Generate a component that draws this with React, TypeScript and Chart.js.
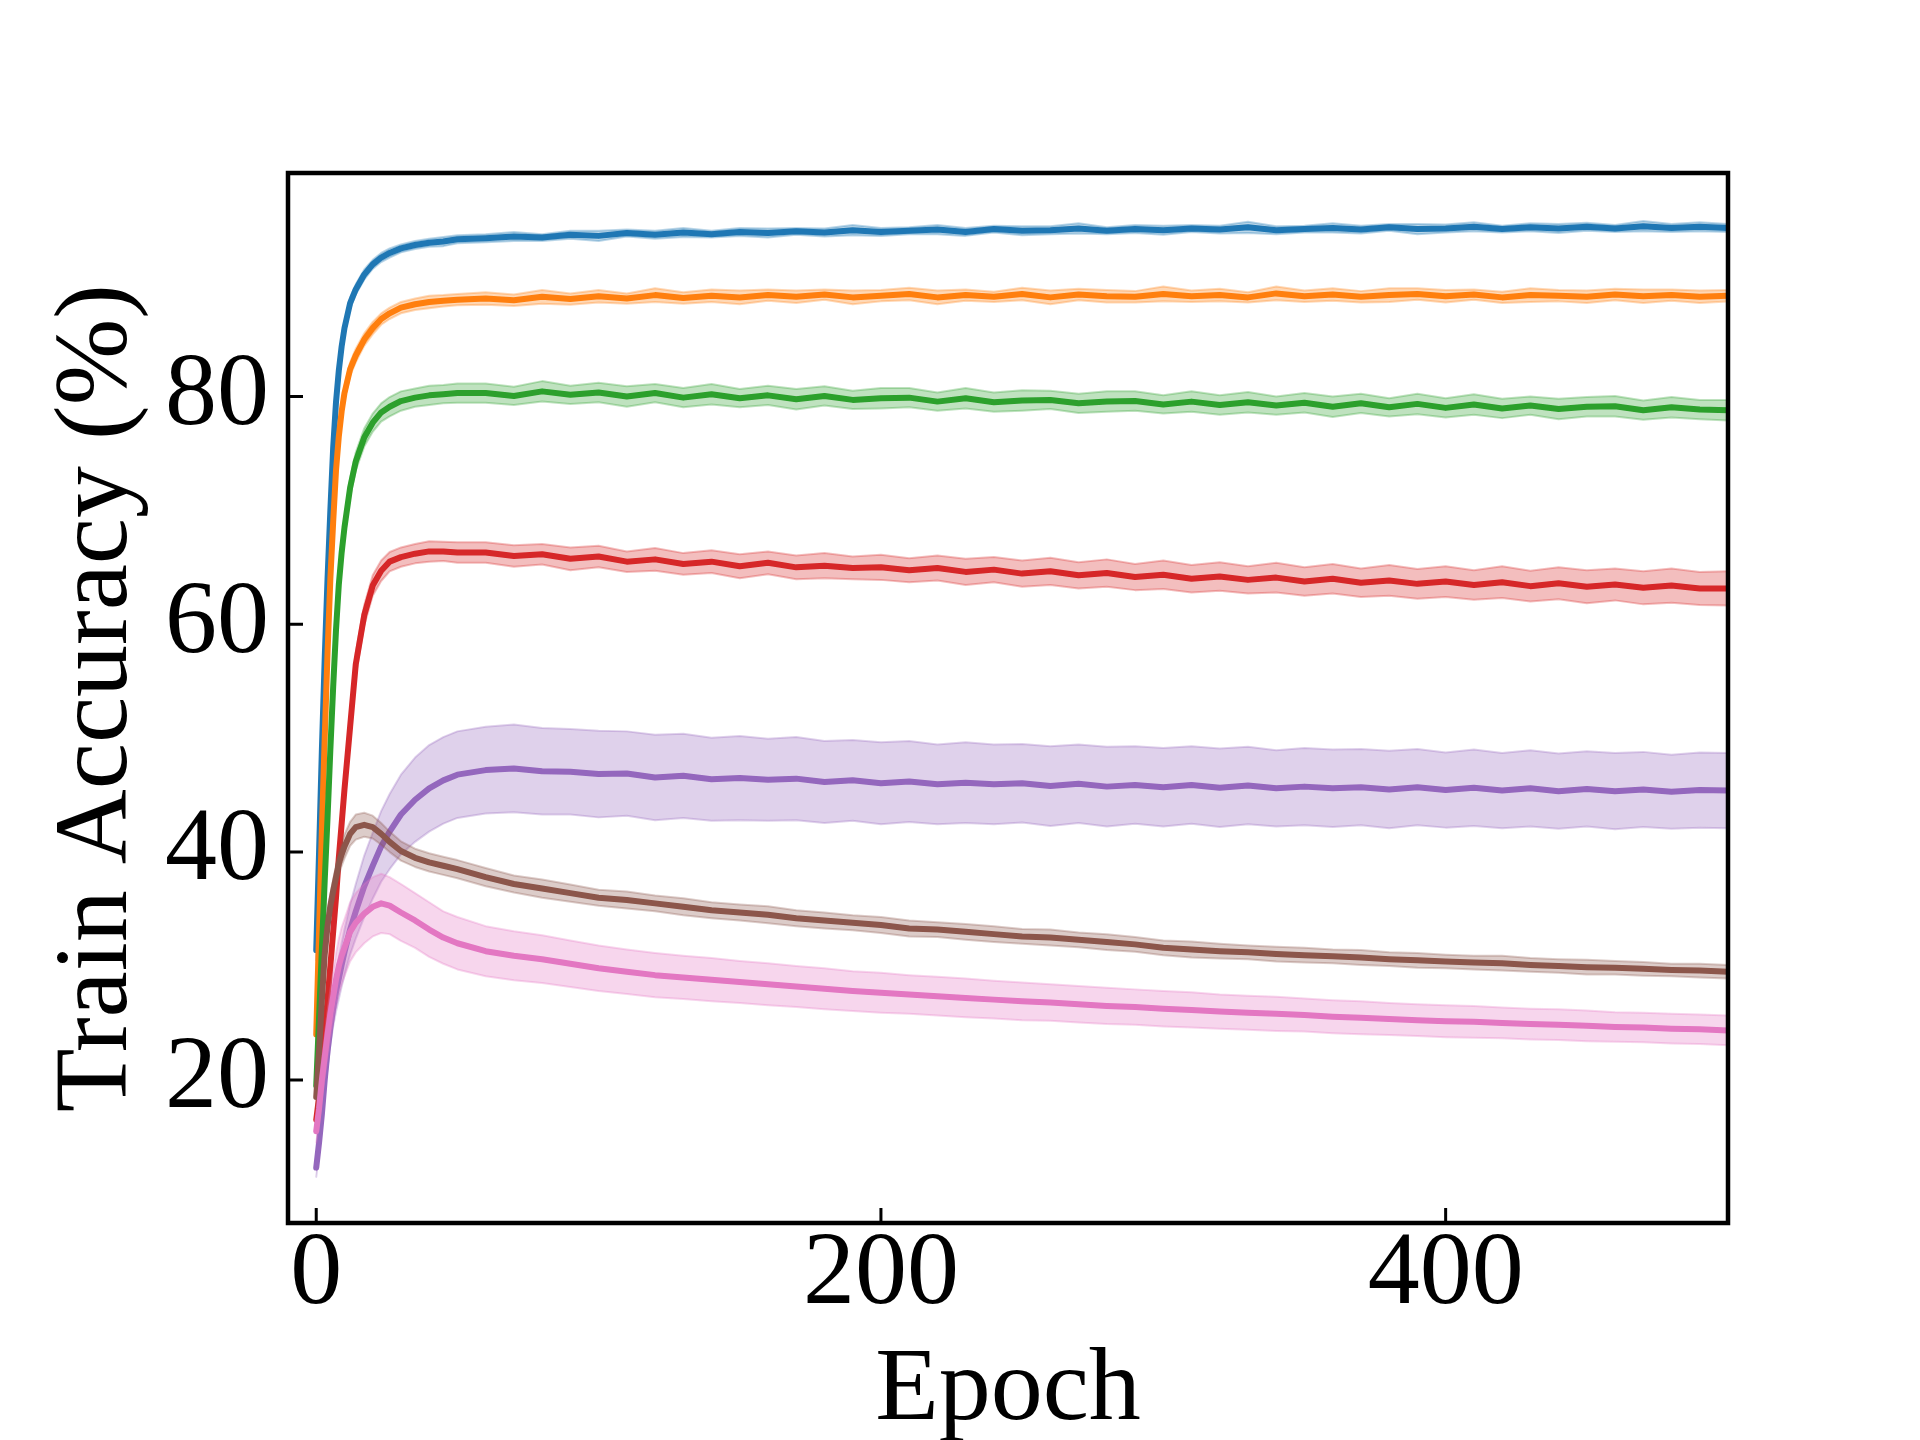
import { useEffect, useRef } from 'react';
import { Chart, registerables } from 'chart.js';
import type { ChartConfiguration, Plugin } from 'chart.js';

Chart.register(...registerables);

// epochs at which the curves are sampled
const epochs = [
  0, 1, 2, 3, 4, 5, 6, 7, 8, 9, 10, 12, 14, 17, 20, 23, 26, 30, 35, 40, 45, 50,
  60, 70, 80, 90, 100, 110, 120, 130, 140, 150,
  160, 170, 180, 190, 200, 210, 220, 230, 240, 250,
  260, 270, 280, 290, 300, 310, 320, 330, 340, 350,
  360, 370, 380, 390, 400, 410, 420, 430, 440, 450,
  460, 470, 480, 490, 500,
];

const xTicks = [0, 200, 400];
const yTicks = [20, 40, 60, 80];

// mean train accuracy (%)
const blueAcc = [
  31.4, 40, 49, 57, 64, 70, 75.5, 79.5, 82.3, 84.4, 86, 88.2, 89.4, 90.7, 91.6, 92.2, 92.6, 93.0, 93.3, 93.5, 93.6, 93.8,
  93.9, 94.05, 93.95, 94.2, 94.1, 94.35, 94.2, 94.4, 94.25, 94.45,
  94.35, 94.5, 94.4, 94.6, 94.45, 94.55, 94.65, 94.45, 94.7, 94.55,
  94.6, 94.75, 94.55, 94.7, 94.6, 94.75, 94.65, 94.85, 94.6, 94.7,
  94.8, 94.65, 94.85, 94.7, 94.75, 94.9, 94.7, 94.85, 94.75, 94.9,
  94.75, 94.95, 94.8, 94.9, 94.8,
];
const orangeAcc = [
  24, 33, 42, 50, 57.5, 64, 69, 73.5, 76.5, 78.7, 80.3, 82.4, 83.6, 85.0, 86.0, 86.8, 87.3, 87.8, 88.1, 88.3, 88.4, 88.5,
  88.6, 88.45, 88.75, 88.55, 88.8, 88.6, 88.9, 88.65, 88.85, 88.7,
  88.9, 88.75, 88.95, 88.7, 88.85, 89.0, 88.7, 88.9, 88.75, 89.0,
  88.7, 88.95, 88.8, 88.75, 89.0, 88.8, 88.9, 88.7, 89.05, 88.8,
  88.95, 88.75, 88.9, 89.0, 88.8, 88.95, 88.7, 88.9, 88.85, 88.75,
  88.95, 88.8, 88.9, 88.75, 88.85,
];
const greenAcc = [
  19.5, 25.5, 31.5, 37.5, 43, 49, 54.5, 59.5, 63.5, 66.3, 68.5, 72.0, 74.3, 76.4, 77.7, 78.6, 79.1, 79.6, 79.9, 80.1, 80.2, 80.3,
  80.3, 80.05, 80.45, 80.15, 80.35, 80.0, 80.3, 79.9, 80.2, 79.85,
  80.1, 79.75, 80.05, 79.7, 79.85, 79.9, 79.55, 79.85, 79.5, 79.65,
  79.7, 79.4, 79.55, 79.6, 79.3, 79.55, 79.25, 79.5, 79.2, 79.45,
  79.1, 79.4, 79.05, 79.35, 79.0, 79.3, 78.95, 79.2, 78.9, 79.1,
  79.15, 78.8, 79.05, 78.85, 78.8,
];
const redAcc = [
  16.5, 18.5, 21, 24, 27, 30, 33, 36, 39.5, 42.5, 45.5, 51, 56.5, 60.8, 63.4, 64.7, 65.5, 65.9, 66.2, 66.4, 66.4, 66.3,
  66.3, 66.0, 66.15, 65.75, 65.95, 65.5, 65.7, 65.3, 65.5, 65.1,
  65.4, 65.0, 65.15, 64.95, 65.0, 64.75, 64.95, 64.6, 64.8, 64.45,
  64.65, 64.3, 64.5, 64.15, 64.35, 64.0, 64.2, 63.9, 64.1, 63.75,
  64.0, 63.65, 63.85, 63.55, 63.75, 63.45, 63.7, 63.35, 63.6, 63.3,
  63.5, 63.2, 63.4, 63.15, 63.15,
];
const purpleAcc = [
  12.3, 14.5, 17, 20, 22.5, 24.6, 26.3, 27.7, 28.9, 30.1, 31.2, 33.2, 34.8, 37.0, 38.8, 40.5, 41.8, 43.3, 44.6, 45.6, 46.3, 46.8,
  47.2, 47.35, 47.1, 47.05, 46.85, 46.9, 46.55, 46.7, 46.4, 46.5,
  46.35, 46.45, 46.15, 46.3, 46.05, 46.2, 45.95, 46.1, 45.95, 46.05,
  45.8, 46.0, 45.75, 45.9, 45.7, 45.9, 45.65, 45.85, 45.6, 45.75,
  45.6, 45.7, 45.5, 45.7, 45.45, 45.65, 45.4, 45.6, 45.35, 45.55,
  45.35, 45.5, 45.3, 45.45, 45.4,
];
const brownAcc = [
  18.5, 22.5, 27, 31, 33.5, 35.3, 36.6, 37.8, 39.0, 39.8, 40.5, 41.6, 42.2, 42.4, 42.2, 41.6, 40.9, 40.1, 39.5, 39.1, 38.8, 38.5,
  37.8, 37.2, 36.8, 36.4, 36.0, 35.8, 35.5, 35.2, 34.9, 34.7,
  34.5, 34.2, 34.0, 33.8, 33.6, 33.3, 33.2, 33.0, 32.8, 32.6,
  32.5, 32.3, 32.1, 31.9, 31.6, 31.45, 31.3, 31.2, 31.05, 30.95,
  30.85, 30.75, 30.6, 30.5, 30.4, 30.3, 30.25, 30.1, 30.0, 29.9,
  29.85, 29.75, 29.65, 29.6, 29.5,
];
const pinkAcc = [
  15.5, 17.5, 20, 22, 24, 25.8, 27.3, 28.8, 30.0, 30.9, 31.6, 33.0, 33.8, 34.6, 35.2, 35.5, 35.3, 34.7, 34.0, 33.2, 32.5, 32.0,
  31.3, 30.9, 30.6, 30.2, 29.8, 29.5, 29.2, 29.0, 28.8, 28.6,
  28.4, 28.2, 28.0, 27.8, 27.65, 27.5, 27.35, 27.2, 27.05, 26.9,
  26.8, 26.65, 26.5, 26.4, 26.25, 26.15, 26.0, 25.9, 25.8, 25.7,
  25.55, 25.45, 25.35, 25.25, 25.15, 25.1, 25.0, 24.9, 24.85, 24.75,
  24.65, 24.6, 24.5, 24.45, 24.35,
];

// standard deviation (shaded band = mean ± std)
const blueStd = [
  0.9, 0.9, 0.8, 0.8, 0.7, 0.7, 0.6, 0.6, 0.6, 0.5, 0.5, 0.5, 0.45, 0.45, 0.4, 0.4, 0.4, 0.35, 0.35, 0.35, 0.4, 0.35,
  0.35, 0.4, 0.3, 0.35, 0.45, 0.3, 0.35, 0.4, 0.3, 0.35,
  0.4, 0.3, 0.35, 0.45, 0.35, 0.3, 0.4, 0.35, 0.3, 0.4,
  0.35, 0.45, 0.3, 0.35, 0.4, 0.3, 0.35, 0.5, 0.35, 0.3,
  0.4, 0.35, 0.3, 0.45, 0.35, 0.4, 0.3, 0.35, 0.4, 0.35,
  0.3, 0.45, 0.35, 0.4, 0.35,
];
const orangeStd = [
  1.0, 1.0, 0.9, 0.9, 0.8, 0.8, 0.7, 0.7, 0.7, 0.6, 0.6, 0.6, 0.6, 0.55, 0.55, 0.5, 0.5, 0.5, 0.5, 0.55, 0.5, 0.5,
  0.55, 0.5, 0.6, 0.5, 0.55, 0.45, 0.6, 0.5, 0.55, 0.6,
  0.5, 0.55, 0.45, 0.6, 0.5, 0.55, 0.6, 0.5, 0.45, 0.55,
  0.6, 0.5, 0.55, 0.5, 0.65, 0.5, 0.55, 0.45, 0.6, 0.5,
  0.55, 0.5, 0.6, 0.5, 0.55, 0.45, 0.5, 0.6, 0.5, 0.55,
  0.5, 0.6, 0.5, 0.55, 0.5,
];
const greenStd = [
  1.0, 1.0, 1.0, 0.9, 0.9, 0.9, 0.8, 0.8, 0.8, 0.8, 0.8, 0.8, 0.8, 0.8, 0.8, 0.8, 0.85, 0.85, 0.8, 0.85, 0.8, 0.85,
  0.85, 0.8, 0.9, 0.8, 0.85, 0.9, 0.8, 0.85, 0.9, 0.8,
  0.85, 0.9, 0.85, 0.8, 0.9, 0.85, 0.8, 0.9, 0.85, 0.9,
  0.8, 0.85, 0.9, 0.85, 0.8, 0.9, 0.85, 0.9, 0.8, 0.85,
  0.9, 0.85, 0.8, 0.9, 0.85, 0.9, 0.85, 0.8, 0.9, 0.85,
  0.9, 0.85, 0.9, 0.85, 0.9,
];
const redStd = [
  1.0, 1.0, 1.0, 1.0, 1.0, 1.0, 1.0, 1.0, 1.0, 1.0, 1.0, 1.0, 1.0, 0.9, 0.9, 0.9, 0.85, 0.85, 0.85, 0.9, 0.85, 0.9,
  0.9, 0.95, 0.9, 1.0, 0.95, 0.9, 1.0, 0.95, 1.0, 1.05,
  1.0, 1.05, 1.1, 1.0, 1.1, 1.05, 1.1, 1.15, 1.1, 1.15,
  1.2, 1.15, 1.2, 1.15, 1.25, 1.2, 1.25, 1.2, 1.3, 1.25,
  1.3, 1.25, 1.35, 1.3, 1.35, 1.3, 1.4, 1.35, 1.4, 1.45,
  1.4, 1.45, 1.5, 1.45, 1.5,
];
const purpleStd = [
  0.8, 1.0, 1.2, 1.3, 1.4, 1.5, 1.6, 1.7, 1.8, 1.9, 2.0, 2.2, 2.4, 2.7, 2.9, 3.1, 3.3, 3.5, 3.7, 3.8, 3.8, 3.8,
  3.8, 3.85, 3.8, 3.75, 3.8, 3.7, 3.75, 3.7, 3.65, 3.7,
  3.6, 3.65, 3.6, 3.55, 3.6, 3.55, 3.5, 3.55, 3.5, 3.45,
  3.5, 3.45, 3.5, 3.4, 3.45, 3.4, 3.45, 3.4, 3.35, 3.4,
  3.4, 3.35, 3.4, 3.35, 3.3, 3.35, 3.3, 3.35, 3.3, 3.3,
  3.35, 3.3, 3.25, 3.3, 3.3,
];
const brownStd = [
  1.0, 1.0, 1.0, 1.0, 1.0, 1.0, 1.0, 1.0, 1.0, 1.0, 1.05, 1.05, 1.1, 1.05, 1.0, 0.95, 0.9, 0.85, 0.8, 0.8, 0.8, 0.8,
  0.8, 0.75, 0.8, 0.75, 0.7, 0.75, 0.7, 0.75, 0.7, 0.7,
  0.75, 0.7, 0.7, 0.65, 0.7, 0.7, 0.65, 0.7, 0.7, 0.65,
  0.7, 0.65, 0.7, 0.65, 0.65, 0.7, 0.65, 0.6, 0.65, 0.65,
  0.6, 0.65, 0.6, 0.65, 0.6, 0.6, 0.65, 0.6, 0.6, 0.65,
  0.6, 0.6, 0.55, 0.6, 0.6,
];
const pinkStd = [
  1.0, 1.3, 1.6, 1.8, 2.0, 2.1, 2.2, 2.3, 2.4, 2.5, 2.5, 2.6, 2.6, 2.6, 2.6, 2.6, 2.5, 2.5, 2.4, 2.4, 2.3, 2.3,
  2.2, 2.15, 2.1, 2.05, 2.0, 1.95, 1.95, 1.9, 1.9, 1.85,
  1.85, 1.8, 1.8, 1.75, 1.75, 1.7, 1.7, 1.7, 1.65, 1.65,
  1.6, 1.6, 1.6, 1.55, 1.55, 1.55, 1.5, 1.5, 1.5, 1.45,
  1.45, 1.45, 1.4, 1.4, 1.4, 1.4, 1.35, 1.35, 1.35, 1.35,
  1.3, 1.3, 1.3, 1.3, 1.3,
];

const seriesColors = ['#1f77b4', '#ff7f0e', '#2ca02c', '#d62728', '#9467bd', '#8c564b', '#e377c2'];
const seriesMeans = [blueAcc, orangeAcc, greenAcc, redAcc, purpleAcc, brownAcc, pinkAcc];
const seriesStds = [blueStd, orangeStd, greenStd, redStd, purpleStd, brownStd, pinkStd];

const FONT = "'Liberation Serif', 'Times New Roman', Times, serif";

function withAlpha(hex: string, a: number) {
  const n = parseInt(hex.slice(1), 16);
  return `rgba(${(n >> 16) & 255}, ${(n >> 8) & 255}, ${n & 255}, ${a})`;
}

// matplotlib-style box and inward ticks
const framePlugin: Plugin = {
  id: 'frame',
  afterDatasetsDraw(chart) {
    const { ctx, chartArea: a, scales } = chart;
    ctx.save();
    ctx.strokeStyle = '#000';
    ctx.lineWidth = 3;
    ctx.beginPath();
    xTicks.forEach((v) => {
      const px = scales.x.getPixelForValue(v);
      ctx.moveTo(px, a.bottom);
      ctx.lineTo(px, a.bottom - 15);
    });
    yTicks.forEach((v) => {
      const py = scales.y.getPixelForValue(v);
      ctx.moveTo(a.left, py);
      ctx.lineTo(a.left + 15, py);
    });
    ctx.stroke();
    ctx.lineWidth = 4.5;
    ctx.strokeRect(a.left, a.top, a.right - a.left, a.bottom - a.top);
    ctx.restore();
  },
};

export default function App() {
  const canvasRef = useRef<HTMLCanvasElement>(null);
  const chartRef = useRef<Chart | null>(null);

  useEffect(() => {
    if (!canvasRef.current) return;
    if (chartRef.current) chartRef.current.destroy();

    const datasets: any[] = [];
    seriesMeans.forEach((mean, i) => {
      const color = seriesColors[i];
      const std = seriesStds[i];
      const base = (seriesMeans.length - 1 - i) * 3;
      datasets.push({
        data: epochs.map((x, k) => ({ x, y: mean[k] + std[k] })),
        borderColor: withAlpha(color, 0.3),
        backgroundColor: withAlpha(color, 0.3),
        borderWidth: 2,
        fill: '+1',
        order: base + 2,
      });
      datasets.push({
        data: epochs.map((x, k) => ({ x, y: mean[k] - std[k] })),
        borderColor: withAlpha(color, 0.3),
        borderWidth: 2,
        fill: false,
        order: base + 1,
      });
      datasets.push({
        data: epochs.map((x, k) => ({ x, y: mean[k] })),
        borderColor: color,
        borderWidth: 6,
        fill: false,
        order: base,
      });
    });

    const tickFont = { family: FONT, size: 104, lineHeight: 1 };

    const config: ChartConfiguration = {
      type: 'line',
      data: { datasets },
      options: {
        animation: false,
        responsive: false,
        devicePixelRatio: 1,
        layout: { padding: { left: 0, top: 173, right: 192, bottom: 0 } },
        elements: {
          point: { radius: 0 },
          line: { tension: 0, borderJoinStyle: 'round', borderCapStyle: 'round' },
        },
        plugins: {
          legend: { display: false },
          tooltip: { enabled: false },
        },
        scales: {
          x: {
            type: 'linear',
            min: -10,
            max: 500,
            afterFit: (s: any) => {
              s.height = 217;
            },
            afterBuildTicks: (s: any) => {
              s.ticks = xTicks.map((v) => ({ value: v }));
            },
            grid: { display: false, drawTicks: false },
            border: { display: false },
            ticks: { font: tickFont, color: '#000', padding: 1, maxRotation: 0, autoSkip: false },
            title: {
              display: true,
              text: 'Epoch',
              color: '#000',
              font: tickFont,
              padding: { top: 0, bottom: -4 },
            },
          },
          y: {
            type: 'linear',
            min: 7.44,
            max: 99.62,
            afterFit: (s: any) => {
              s.width = 288;
            },
            afterBuildTicks: (s: any) => {
              s.ticks = yTicks.map((v) => ({ value: v }));
            },
            grid: { display: false, drawTicks: false },
            border: { display: false },
            ticks: { font: tickFont, color: '#000', padding: 19, autoSkip: false },
            title: {
              display: true,
              text: 'Train Accuracy (%)',
              color: '#000',
              font: tickFont,
              padding: { top: 47, bottom: 0 },
            },
          },
        },
      },
      plugins: [framePlugin],
    };

    chartRef.current = new Chart(canvasRef.current, config);

    return () => {
      if (chartRef.current) {
        chartRef.current.destroy();
        chartRef.current = null;
      }
    };
  }, []);

  return (
    <div style={{ position: 'absolute', left: 0, top: 0, width: '1920px', height: '1440px', background: '#fff' }}>
      <canvas ref={canvasRef} width={1920} height={1440} style={{ width: '1920px', height: '1440px' }}></canvas>
    </div>
  );
}
